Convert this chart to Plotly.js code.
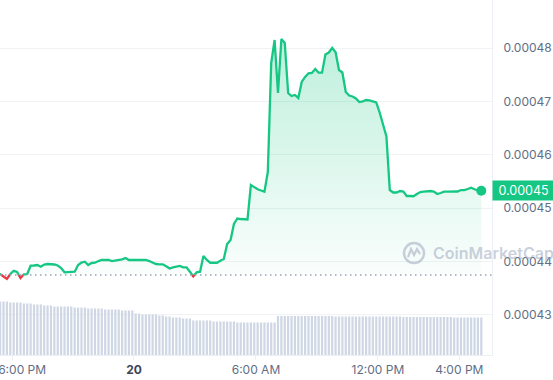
<!DOCTYPE html>
<html>
<head>
<meta charset="utf-8">
<script src="https://cdn.plot.ly/plotly-3.0.1.min.js"></script>
<style>html,body{margin:0;padding:0;background:#fff;}#chart{width:553px;height:380px;}</style>
</head>
<body>
<div id="chart"></div>
<script>
// ---- data ----
const startTime = '2024-01-19 17:05';   // first sample
const stepMinutes = 10;                  // sampling interval

const price = [
  0.00043747,0.00043765,0.00043765,0.00043718,0.00043672,0.00043765,0.00043827,0.00043803,0.00043690,0.00043760,
  0.00043765,0.00043921,0.00043925,0.00043934,0.00043902,0.00043944,0.00043953,0.00043953,0.00043944,0.00043925,
  0.00043878,0.00043797,0.00043797,0.00043797,0.00043809,0.00043934,0.00043981,0.00043996,0.00043934,0.00043972,
  0.00043977,0.00044009,0.00044028,0.00044028,0.00044028,0.00044009,0.00044019,0.00044038,0.00044041,0.00044066,
  0.00044028,0.00044028,0.00044028,0.00044028,0.00044028,0.00044028,0.00044009,0.00043977,0.00043953,0.00043947,
  0.00043947,0.00043910,0.00043869,0.00043891,0.00043906,0.00043916,0.00043891,0.00043891,0.00043809,0.00043720,
  0.00043797,0.00043809,0.00044103,0.00044028,0.00043977,0.00043977,0.00043977,0.00044015,0.00044047,0.00044328,
  0.00044403,0.00044704,0.00044807,0.00044797,0.00044797,0.00044788,0.00045435,0.00045388,0.00045355,0.00045332,
  0.00045310,0.00045679,0.00047724,0.00048156,0.00047161,0.00048175,0.00048099,0.00047161,0.00047105,0.00047124,
  0.00047068,0.00047368,0.00047462,0.00047531,0.00047537,0.00047612,0.00047542,0.00047542,0.00047884,0.00047921,
  0.00048006,0.00047925,0.00047593,0.00047546,0.00047180,0.00047114,0.00047096,0.00047058,0.00046992,0.00047002,
  0.00047030,0.00047021,0.00047006,0.00046983,0.00046796,0.00046561,0.00046345,0.00045341,0.00045295,0.00045295,
  0.00045323,0.00045313,0.00045229,0.00045229,0.00045225,0.00045266,0.00045304,0.00045313,0.00045323,0.00045323,
  0.00045313,0.00045266,0.00045285,0.00045310,0.00045310,0.00045310,0.00045310,0.00045313,0.00045341,0.00045341,
  0.00045360,0.00045385,0.00045355,0.00045332,0.00045328
];

// 24h volume (millions USD)
const volume = [
  5.35,5.35,5.35,5.35,5.35,5.25,5.25,5.25,5.25,5.15,
  5.15,5.15,5.05,5.05,5.05,4.95,4.95,4.95,4.85,4.85,
  4.85,4.85,4.85,4.85,4.75,4.75,4.75,4.75,4.65,4.65,
  4.65,4.65,4.65,4.55,4.55,4.55,4.55,4.55,4.45,4.45,
  4.45,4.45,4.15,4.15,4.05,4.05,4.05,4.05,4.05,3.95,
  3.95,3.85,3.85,3.75,3.75,3.75,3.65,3.65,3.65,3.45,
  3.45,3.45,3.45,3.45,3.45,3.35,3.35,3.35,3.35,3.35,
  3.35,3.35,3.25,3.25,3.25,3.25,3.25,3.25,3.25,3.25,
  3.25,3.25,3.25,3.25,3.90,3.90,3.90,3.90,3.90,3.90,
  3.90,3.90,3.90,3.90,3.90,3.90,3.90,3.90,3.90,3.90,
  3.90,3.85,3.85,3.85,3.85,3.85,3.85,3.85,3.85,3.85,
  3.85,3.85,3.85,3.85,3.85,3.85,3.85,3.85,3.85,3.85,
  3.85,3.80,3.80,3.80,3.80,3.80,3.80,3.80,3.80,3.80,
  3.80,3.80,3.80,3.80,3.80,3.80,3.75,3.75,3.75,3.75,
  3.75,3.75,3.75,3.75,3.75
];

const tickVals = ['2024-01-19 18:00','2024-01-20 00:00','2024-01-20 06:00','2024-01-20 12:00','2024-01-20 16:00'];
const tickText = ['\u00a0\u00a0\u00a0\u00a0\u00a0\u00a06:00 PM','<b><span style="color:#3c4558">20</span></b>','6:00 AM','12:00 PM','4:00 PM'];
const priceTicks = [0.00043,0.00044,0.00045,0.00046,0.00047,0.00048];
const xRange = ['2024-01-19 17:24:36','2024-01-20 17:36:36'];
const yRange = [0.00042246, 0.00048906];
const volRange = [0, 35.5];

// ---- helpers ----
const GREEN = '#16c784', RED = '#ea3943';
const toMs = s => Date.parse(s.replace(' ', 'T') + 'Z');
const toStr = ms => new Date(ms).toISOString().slice(0, 19).replace('T', ' ');
const t0 = toMs(startTime);
const times = price.map((_, i) => toStr(t0 + i * stepMinutes * 60000));

const base = price[0];
const ax = [], av = [];
for (let i = 0; i < price.length; i++) {
  ax.push(toMs(times[i])); av.push(price[i]);
  if (i < price.length - 1) {
    const a = price[i] - base, b = price[i + 1] - base;
    if (a * b < 0) {
      const f = (base - price[i]) / (price[i + 1] - price[i]);
      ax.push(toMs(times[i]) + f * (toMs(times[i + 1]) - toMs(times[i])));
      av.push(base);
    }
  }
}
const axs = ax.map(toStr);
const greenY = av.map(v => v >= base ? v : null);
const redY = av.map(v => v <= base ? v : null);
const fillY = av.map(v => Math.max(v, base));
const baseY = av.map(() => base);
const last = price.length - 1;

const traces = [
  { type: 'bar', x: times, y: volume, yaxis: 'y2', marker: { color: '#cfd6e4' }, hoverinfo: 'skip', showlegend: false },
  { type: 'scatter', mode: 'lines', x: axs, y: baseY, line: { width: 0 }, hoverinfo: 'skip', showlegend: false },
  { type: 'scatter', mode: 'lines', x: axs, y: fillY, line: { width: 0 }, fill: 'tonexty',
    fillgradient: { type: 'vertical', colorscale: [[0, 'rgba(22,199,132,0.02)'], [1, 'rgba(22,199,132,0.28)']] },
    hoverinfo: 'skip', showlegend: false },
  { type: 'scatter', mode: 'lines', x: axs, y: greenY, line: { color: GREEN, width: 2.3 }, connectgaps: false, showlegend: false },
  { type: 'scatter', mode: 'lines', x: axs, y: redY, line: { color: RED, width: 2.3 }, connectgaps: false, showlegend: false },
  { type: 'scatter', mode: 'markers', x: [times[last]], y: [price[last]], marker: { color: GREEN, size: 10 }, showlegend: false }
];

const wm = 'rgba(150,162,184,0.5)';
const layout = {
  width: 553, height: 380,
  margin: { l: 0, r: 61, t: 0, b: 25, pad: 0 },
  paper_bgcolor: '#fff', plot_bgcolor: '#fff',
  font: { family: 'Inter, "Open Sans", sans-serif', size: 12, color: '#616e85' },
  showlegend: false,
  bargap: 0.35,
  xaxis: {
    type: 'date', range: xRange, tickmode: 'array', tickvals: tickVals, ticktext: tickText,
    showgrid: false, zeroline: false, showline: true, linecolor: '#eceff3', linewidth: 1,
    ticks: 'outside', ticklen: 4, tickcolor: '#eceff3', ticklabeloverflow: 'allow',
    tickfont: { size: 12, color: '#616e85' }
  },
  yaxis: {
    side: 'right', range: yRange, tickmode: 'array', tickvals: priceTicks, tickformat: '.5f',
    showgrid: true, gridcolor: '#f0f2f5', zeroline: false, showline: true, linecolor: '#eceff3',
    ticks: '', ticklabelstandoff: 8, tickfont: { size: 12, color: '#616e85' }
  },
  yaxis2: { overlaying: 'y', range: volRange, visible: false, showgrid: false, zeroline: false },
  shapes: [
    { type: 'line', xref: 'paper', x0: 0, x1: 1, yref: 'y', y0: base, y1: base,
      line: { color: '#9aa3b5', width: 1.5, dash: '1.5px,3.5px' } },
    { type: 'circle', xref: 'paper', yref: 'paper', xsizemode: 'pixel', ysizemode: 'pixel',
      xanchor: 0.8415, yanchor: 0.287, x0: -10, x1: 10, y0: -10, y1: 10, line: { color: wm, width: 2.5 } },
    { type: 'path', xref: 'paper', yref: 'paper', xsizemode: 'pixel', ysizemode: 'pixel',
      xanchor: 0.8415, yanchor: 0.287, path: 'M -6 -4 L -3 4 L 0 -2 L 3 4 L 6 -1',
      line: { color: wm, width: 2.2 } }
  ],
  annotations: [
    { xref: 'paper', yref: 'paper', x: 0.876, y: 0.287, xanchor: 'left', yanchor: 'middle', showarrow: false,
      text: 'CoinMarketCap', font: { family: 'Inter, sans-serif', size: 16, color: wm, weight: 600 } },
    { xref: 'paper', yref: 'y', x: 1, y: price[last], xanchor: 'left', yanchor: 'middle', showarrow: false,
      text: price[last].toFixed(5), bgcolor: GREEN, width: 59, height: 17, align: 'center', borderpad: 1,
      font: { family: 'Inter, sans-serif', size: 12.5, color: '#ffffff' } }
  ]
};

Plotly.newPlot('chart', traces, layout, { displayModeBar: false, staticPlot: true });
</script>
</body>
</html>
